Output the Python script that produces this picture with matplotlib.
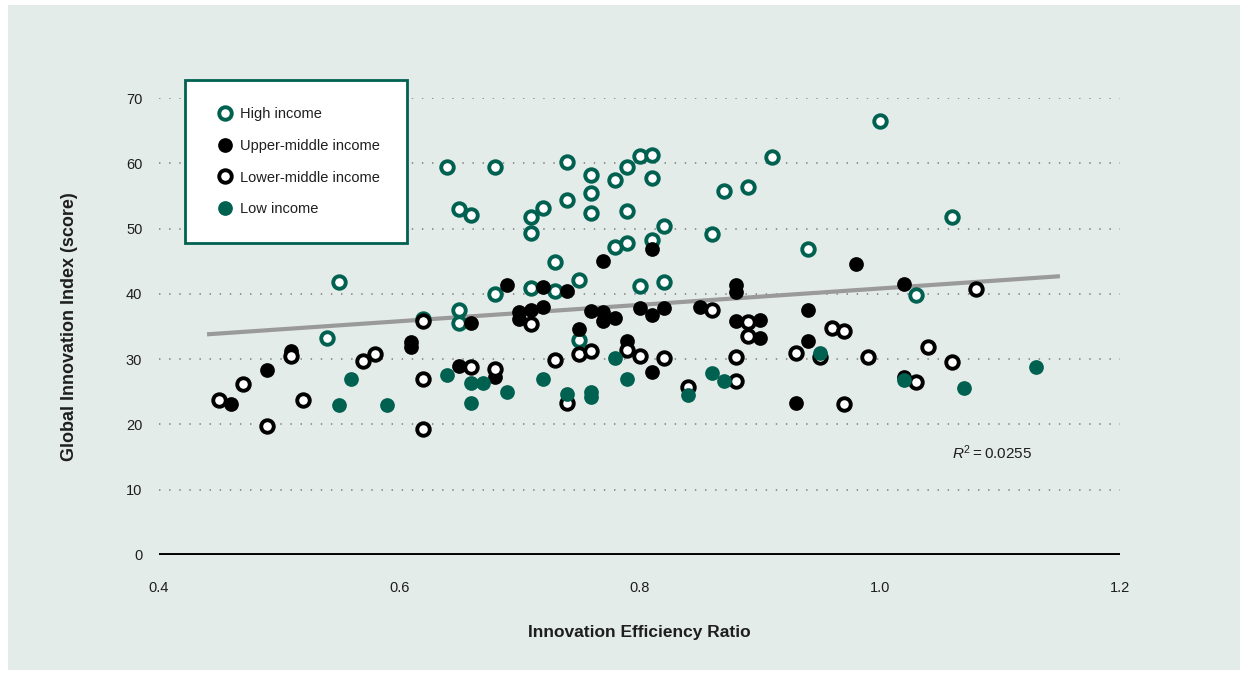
import matplotlib
matplotlib.use('Agg')
import matplotlib.pyplot as plt
from matplotlib.patches import Rectangle
from matplotlib.lines import Line2D

# DATA
high_x = [0.54, 0.55, 0.62, 0.64, 0.65, 0.65, 0.65, 0.66, 0.68, 0.68, 0.71, 0.71, 0.71, 0.72, 0.73,
          0.73, 0.74, 0.74, 0.75, 0.75, 0.76, 0.76, 0.76, 0.78, 0.78, 0.79, 0.79, 0.79, 0.80, 0.80,
          0.81, 0.81, 0.81, 0.82, 0.82, 0.86, 0.87, 0.89, 0.91, 0.94, 1.00, 1.03, 1.06]
high_y = [33.2, 41.8, 36.2, 59.4, 53.0, 37.6, 35.5, 52.1, 59.4, 40.0, 51.8, 49.3, 40.9, 53.2, 44.9,
          40.4, 60.2, 54.4, 42.1, 33.0, 58.2, 55.5, 52.4, 57.4, 47.2, 59.4, 52.7, 47.8, 61.1, 41.2,
          61.3, 57.8, 48.2, 50.4, 41.8, 49.2, 55.8, 56.3, 61.0, 46.8, 66.5, 39.9, 51.7]

upper_x = [0.46, 0.49, 0.51, 0.61, 0.61, 0.65, 0.66, 0.68, 0.69, 0.70, 0.70, 0.71, 0.72, 0.72, 0.74,
           0.75, 0.76, 0.77, 0.77, 0.77, 0.78, 0.79, 0.80, 0.81, 0.81, 0.81, 0.82, 0.85, 0.88, 0.88,
           0.88, 0.90, 0.90, 0.93, 0.94, 0.94, 0.98, 1.02, 1.02]
upper_y = [23.1, 28.3, 31.2, 32.7, 31.8, 28.9, 35.5, 27.3, 41.3, 37.2, 36.2, 37.5, 41.0, 38.0, 40.5,
           34.6, 37.4, 37.2, 35.9, 45.1, 36.3, 32.8, 37.9, 36.8, 28.0, 46.9, 37.8, 38.0, 41.3, 40.3,
           35.8, 36.0, 33.2, 23.3, 37.6, 32.8, 44.6, 41.5, 27.2]

lower_x = [0.45, 0.47, 0.49, 0.51, 0.52, 0.57, 0.58, 0.62, 0.62, 0.62, 0.66, 0.68, 0.71, 0.73, 0.74,
           0.75, 0.76, 0.79, 0.80, 0.82, 0.84, 0.86, 0.88, 0.88, 0.89, 0.89, 0.93, 0.95, 0.96, 0.97,
           0.97, 0.99, 1.03, 1.04, 1.06, 1.08]
lower_y = [23.7, 26.2, 19.8, 30.5, 23.8, 29.7, 30.8, 35.8, 27.0, 19.3, 28.8, 28.5, 35.4, 29.9, 23.3,
           30.8, 31.2, 31.4, 30.5, 30.2, 25.7, 37.5, 30.4, 26.6, 35.7, 33.6, 31.0, 30.4, 34.7, 34.3,
           23.2, 30.4, 26.5, 31.8, 29.5, 40.8]

low_x = [0.55, 0.56, 0.59, 0.64, 0.66, 0.66, 0.67, 0.69, 0.72, 0.74, 0.76, 0.76, 0.78, 0.79, 0.84,
         0.86, 0.87, 0.95, 1.02, 1.07, 1.13]
low_y = [22.9, 27.0, 22.9, 27.6, 26.3, 23.3, 26.4, 25.0, 27.0, 24.7, 25.0, 24.2, 30.2, 27.0, 24.5,
         27.9, 26.7, 31.0, 26.8, 25.6, 28.8]

trend_x = [0.44, 1.15]
trend_y = [33.8, 42.7]

x_ticks = [0.4, 0.6, 0.8, 1.0, 1.2]
x_tick_labels = ['0.4', '0.6', '0.8', '1.0', '1.2']
y_ticks = [0, 10, 20, 30, 40, 50, 60, 70]

TEAL = '#006150'
BG = '#e4ecea'
TXT = '#1e1e1e'

plt.rcParams['font.family'] = ['Liberation Sans', 'DejaVu Sans']
plt.rcParams['mathtext.fontset'] = 'custom'
plt.rcParams['mathtext.it'] = 'Liberation Sans:italic'
plt.rcParams['mathtext.rm'] = 'Liberation Sans'

fig = plt.figure(figsize=(12.48, 6.75), dpi=100, facecolor='white')
fig.patches.append(Rectangle((8 / 1248, 5 / 675), 1232 / 1248, 665 / 675,
                             transform=fig.transFigure, facecolor=BG, edgecolor='none', zorder=-10))

ax = fig.add_axes([159 / 1248, 120 / 675, 961 / 1248, 457 / 675])
ax.set_facecolor('none')
ax.set_xlim(0.4, 1.2)
ax.set_ylim(0, 70)

# dotted gridlines and zero line
for yv in y_ticks[1:]:
    ax.axhline(yv, color='#8c8c8c', lw=1.3, ls=(0, (0.8, 4.8)), zorder=1)
ax.axhline(0, color='black', lw=2.8, zorder=2)

# trend line
ax.plot(trend_x, trend_y, color='#9a9a9a', lw=3, solid_capstyle='butt', zorder=3)

ms_hollow = 9.0
mew = 2.8
ms_fill = 10.6
ax.plot(high_x, high_y, 'o', ms=ms_hollow, mfc='white', mec=TEAL, mew=mew, zorder=4, clip_on=False)
ax.plot(upper_x, upper_y, 'o', ms=ms_fill, mfc='black', mec='none', zorder=5, clip_on=False)
ax.plot(lower_x, lower_y, 'o', ms=ms_hollow, mfc='white', mec='black', mew=mew, zorder=6, clip_on=False)
ax.plot(low_x, low_y, 'o', ms=ms_fill, mfc=TEAL, mec='none', zorder=7, clip_on=False)

for s in ax.spines.values():
    s.set_visible(False)
ax.set_xticks(x_ticks)
ax.set_xticklabels(x_tick_labels)
ax.set_yticks(y_ticks)
ax.tick_params(length=0, labelsize=10.5, colors=TXT)
ax.tick_params(axis='x', pad=19)
ax.tick_params(axis='y', pad=12)

fig.text(639 / 1248, 1 - 632 / 675, 'Innovation Efficiency Ratio', fontsize=12.5,
         fontweight='bold', color=TXT, ha='center', va='center')
fig.text(70 / 1248, 1 - 327 / 675, 'Global Innovation Index (score)', fontsize=13,
         fontweight='bold', color=TXT, ha='center', va='center', rotation=90)

ax.text(1.06, 15.6, r'$R^2 = 0.0255$', fontsize=11, color=TXT, va='center', ha='left')

# legend
handles = [
    Line2D([], [], ls='none', marker='o', ms=ms_hollow, mfc='white', mec=TEAL, mew=mew),
    Line2D([], [], ls='none', marker='o', ms=ms_fill, mfc='black', mec='none'),
    Line2D([], [], ls='none', marker='o', ms=ms_hollow, mfc='white', mec='black', mew=mew),
    Line2D([], [], ls='none', marker='o', ms=ms_fill, mfc=TEAL, mec='none'),
]
labels = ['High income', 'Upper-middle income', 'Lower-middle income', 'Low income']
leg = ax.legend(handles, labels, loc='upper left', bbox_to_anchor=(26 / 961, 1 + 18 / 457),
                frameon=True, fancybox=False, fontsize=10.5, labelspacing=1.22,
                handletextpad=0.15, handlelength=1.8, borderpad=1.85, borderaxespad=0)
for t in leg.get_texts():
    t.set_color(TXT)
leg.get_frame().set_edgecolor(TEAL)
leg.get_frame().set_linewidth(2)
leg.get_frame().set_facecolor('white')
leg.get_frame().set_alpha(1)
leg.set_zorder(10)

fig.savefig('out.png', dpi=100, facecolor='white')
